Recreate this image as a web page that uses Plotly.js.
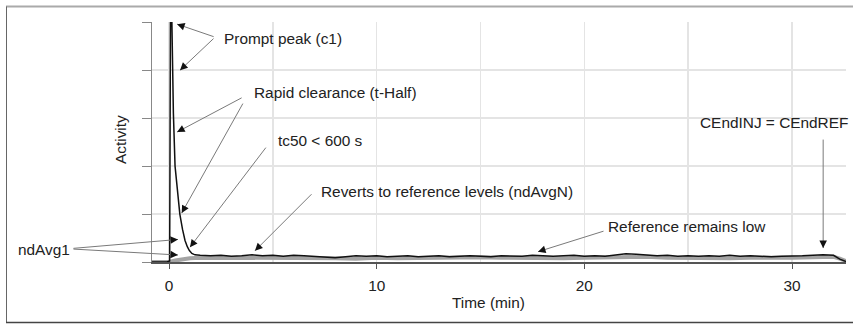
<!DOCTYPE html>
<html>
<head>
<meta charset="utf-8">
<script src="https://cdn.plot.ly/plotly-3.0.1.min.js"></script>
<style>html,body{margin:0;padding:0;background:#fff;}#chart{width:853px;height:324px;}</style>
</head>
<body>
<div id="chart"></div>
<script>
// Injection (black) trace
const injT = [-0.82, -0.1, 0.03, 0.06, 0.1, 0.13, 0.17, 0.21, 0.29, 0.4, 0.52, 0.65, 0.77, 0.88, 0.98, 1.1, 1.25,
  1.5, 2, 2.5, 3, 3.5, 4, 4.5, 5, 5.5, 6, 6.5, 7, 7.5, 8, 8.5, 9, 9.5, 10, 10.5, 11, 11.5, 12, 12.5, 13, 13.5, 14,
  14.5, 15, 15.5, 16, 16.5, 17, 17.5, 18, 18.5, 19, 19.5, 20, 20.5, 21, 21.5, 22, 22.5, 23, 23.5, 24, 24.5, 25,
  25.5, 26, 26.5, 27, 27.5, 28, 28.5, 29, 29.5, 30, 30.5, 31, 31.5, 32, 32.3, 32.6];
const injY = [0, 0, 0.02, 7.5, 9.0, 5.2, 4.0, 3.1, 2.0, 1.45, 1.0, 0.68, 0.45, 0.32, 0.24, 0.18, 0.15,
  0.14, 0.13, 0.14, 0.12, 0.13, 0.15, 0.13, 0.14, 0.12, 0.14, 0.13, 0.12, 0.10, 0.09, 0.11, 0.13, 0.12, 0.13, 0.11, 0.12, 0.13, 0.11, 0.12, 0.13, 0.11, 0.12,
  0.13, 0.12, 0.11, 0.13, 0.12, 0.12, 0.14, 0.13, 0.12, 0.13, 0.14, 0.12, 0.13, 0.12, 0.15, 0.17, 0.16, 0.14, 0.13, 0.14, 0.12, 0.13,
  0.12, 0.13, 0.12, 0.14, 0.12, 0.13, 0.12, 0.11, 0.12, 0.12, 0.13, 0.14, 0.15, 0.14, 0.06, 0.01];

// Reference (gray) trace
const refT = [-0.82, 0, 0.3, 0.6, 1.0, 1.5, 2, 3, 4, 5, 6, 7, 8, 9, 10, 11, 12, 13, 14, 15, 16, 17, 18, 19, 20,
  21, 22, 23, 24, 25, 26, 27, 28, 29, 30, 31, 32, 32.3, 32.6];
const refY = [0, 0, 0.03, 0.06, 0.08, 0.09, 0.09, 0.08, 0.09, 0.10, 0.08, 0.09, 0.08, 0.07, 0.09, 0.08, 0.09, 0.08, 0.09, 0.10, 0.09, 0.08,
  0.09, 0.08, 0.09, 0.10, 0.12, 0.11, 0.09, 0.08, 0.09, 0.08, 0.09, 0.08, 0.09, 0.10, 0.11, 0.07, 0.02];

const xTickVals = [0, 10, 20, 30];
const xTickText = ['0', '10', '20', '30'];
const yTickVals = [0, 1, 2, 3, 4, 5];

const FONT = 'Liberation Sans, Arial, sans-serif';
const TXT = '#222';
const FS = 15.4;

// plot-area pixel helpers for paper-referenced text / frame
const L = 152, T = 22, W = 694, H = 240;
const px = p => (p - L) / W;
const py = p => (T + H - p) / H;

const labels = [
  {t: 'Prompt peak (c1)', x: 222, y: 38},
  {t: 'Rapid clearance (t-Half)', x: 252, y: 93},
  {t: 'tc50 &lt; 600 s', x: 276, y: 140},
  {t: 'Reverts to reference levels (ndAvgN)', x: 319, y: 192},
  {t: 'Reference remains low', x: 606, y: 226},
  {t: 'CEndINJ = CEndREF', x: 698, y: 123},
  {t: 'ndAvg1', x: 16, y: 249}
];

// arrows: head in data coords, tail offset in pixels
const arrows = [
  {x: 0.39, y: 4.96, ax: 38, ay: 13},
  {x: 0.53, y: 4.0, ax: 35, ay: -33},
  {x: 0.39, y: 2.71, ax: 66, ay: -35},
  {x: 0.61, y: 1.02, ax: 62, ay: -111},
  {x: 1.01, y: 0.31, ax: 77, ay: -101},
  {x: 4.14, y: 0.235, ax: 58, ay: -58},
  {x: 17.77, y: 0.215, ax: 67, ay: -21},
  {x: 31.5, y: 0.29, ax: 0, ay: -110},
  {x: 0.43, y: 0.47, ax: -106, ay: 9},
  {x: 0.43, y: 0.146, ax: -106, ay: -6}
];

const annotations = [];
labels.forEach(l => annotations.push({
  xref: 'paper', yref: 'paper', x: px(l.x), y: py(l.y), xanchor: 'left', yanchor: 'middle',
  text: l.t, showarrow: false, font: {family: FONT, size: FS, color: TXT}
}));
arrows.forEach(a => {
  annotations.push({xref: 'x', yref: 'y', x: a.x, y: a.y, ax: a.ax, ay: a.ay, text: '', showarrow: true,
    arrowhead: 0, arrowwidth: 1, arrowcolor: '#7a7a7a'});
  const len = Math.hypot(a.ax, a.ay), k = 8 / len;
  annotations.push({xref: 'x', yref: 'y', x: a.x, y: a.y, ax: a.ax * k, ay: a.ay * k, text: '', showarrow: true,
    arrowhead: 2, arrowsize: 1.5, arrowwidth: 1, arrowcolor: '#111'});
});
// axis titles
annotations.push({xref: 'paper', yref: 'paper', x: px(120), y: py(140), text: 'Activity', textangle: -90,
  showarrow: false, xanchor: 'center', yanchor: 'middle', font: {family: FONT, size: FS, color: TXT}});
annotations.push({xref: 'paper', yref: 'paper', x: px(488), y: py(302), text: 'Time (min)',
  showarrow: false, xanchor: 'center', yanchor: 'middle', font: {family: FONT, size: FS, color: TXT}});

const shapes = [
  {type: 'line', xref: 'paper', yref: 'paper', x0: px(6), x1: px(853), y0: py(6.5), y1: py(6.5), line: {color: '#aaa', width: 2}},
  {type: 'line', xref: 'paper', yref: 'paper', x0: px(6.5), x1: px(6.5), y0: py(6.5), y1: py(322.5), line: {color: '#666', width: 1}},
  {type: 'line', xref: 'paper', yref: 'paper', x0: px(6), x1: px(853), y0: py(322.5), y1: py(322.5), line: {color: '#444', width: 1.5}}
];

const data = [
  {x: refT, y: refY, type: 'scatter', mode: 'lines', line: {color: '#a3a3a3', width: 4}, hoverinfo: 'skip'},
  {x: injT, y: injY, type: 'scatter', mode: 'lines', line: {color: '#111', width: 1.5}, hoverinfo: 'skip'}
];

const layout = {
  width: 853, height: 324,
  margin: {l: L, r: 853 - L - W, t: T, b: 324 - T - H},
  paper_bgcolor: '#fff', plot_bgcolor: '#fff',
  showlegend: false,
  xaxis: {
    range: [-0.82, 32.6], tickvals: xTickVals, ticktext: xTickText,
    ticks: 'outside', ticklen: 5, tickcolor: '#555', tickwidth: 1,
    showline: true, linecolor: '#555', linewidth: 1.5, zeroline: false,
    showgrid: true, gridcolor: '#e4e4e4', gridwidth: 1.5,
    minor: {dtick: 5, tick0: 0, showgrid: true, gridcolor: '#e4e4e4', gridwidth: 1.5, ticks: ''},
    tickfont: {family: FONT, size: FS, color: TXT}, ticklabelstandoff: 4
  },
  yaxis: {
    range: [0, 5.005], tickvals: yTickVals, showticklabels: false,
    ticks: 'outside', ticklen: 9, tickcolor: '#888', tickwidth: 1,
    showline: true, linecolor: '#888', linewidth: 1.5, zeroline: false,
    showgrid: true, gridcolor: '#e4e4e4', gridwidth: 1.5
  },
  annotations: annotations,
  shapes: shapes
};

Plotly.newPlot('chart', data, layout, {staticPlot: true, displayModeBar: false});
</script>
</body>
</html>
